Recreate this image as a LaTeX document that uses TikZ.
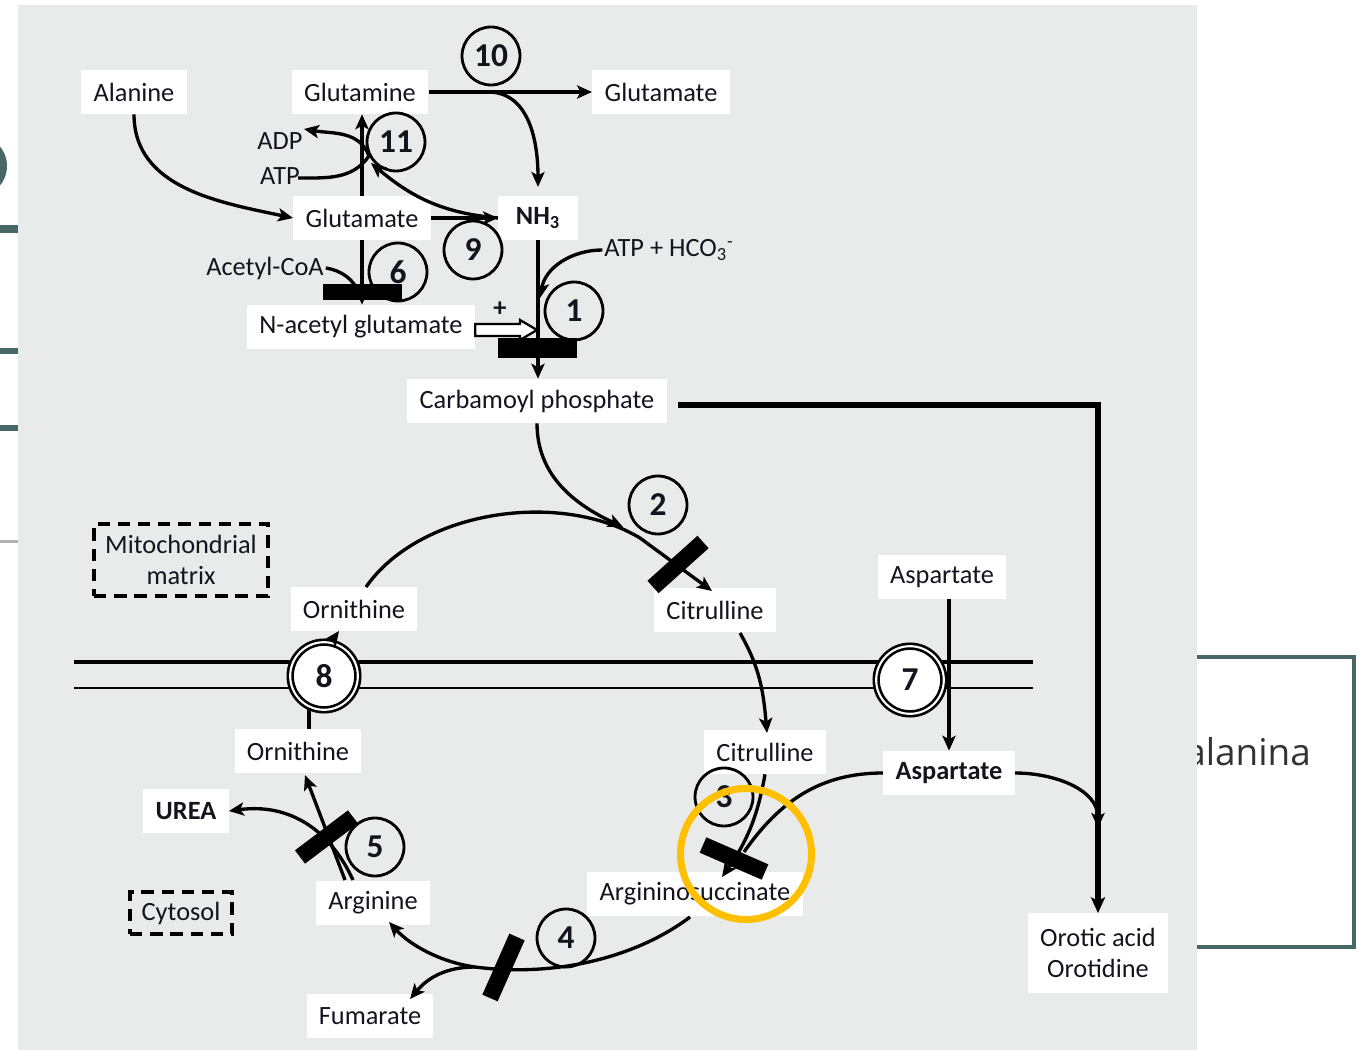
\documentclass[tikz,border=0pt]{standalone}
\usepackage{fontspec}
\setmainfont{Carlito}
\newfontfamily\slidefont{Open Sans}
\usetikzlibrary{arrows.meta,calc}
\definecolor{PanelClr}{rgb}{0.914,0.918,0.918}
\definecolor{SlideClr}{rgb}{0.278,0.408,0.400}
\definecolor{MarkClr}{rgb}{1,0.753,0}
\definecolor{InkClr}{rgb}{0.08,0.08,0.12}

\begin{document}
\begin{tikzpicture}[x=0.02cm,y=-0.02cm,
  lbl/.style={fill=white,inner xsep=7pt,inner ysep=0pt,minimum height=25pt,font=\fontsize{15}{18}\selectfont,text=InkClr},
  txt/.style={inner sep=1pt,font=\fontsize{15}{18}\selectfont,text=InkClr},
  zone/.style={draw,line width=2.1pt,dash pattern=on 7pt off 4.5pt,inner sep=0pt,align=center,font=\fontsize{15}{18}\selectfont,text=InkClr},
  enz/.style={circle,draw,line width=1.6pt,inner sep=0pt,minimum size=33pt,font=\fontsize{19}{22}\selectfont\bfseries,text=InkClr},
  gate/.style={circle,draw,line width=1.5pt,double=white,double distance=1.2pt,fill=white,inner sep=0pt,minimum size=38.5pt,font=\fontsize{19}{22}\selectfont\bfseries,text=InkClr},
  line/.style={line width=1.9pt},
  arr/.style={line width=1.9pt,-{Stealth[length=8.5pt,width=7.5pt,inset=2pt]}},
  heavy/.style={line width=2.9pt,-{Stealth[length=9pt,width=8pt,inset=2pt]}},
  bar/.style={line width=9.5pt}]
\useasboundingbox (0,0) rectangle (1366,1050);
\fill[white] (0,0) rectangle (1366,1050);

\fill[SlideClr] (-22,166) ellipse[x radius=29,y radius=30];
\fill[SlideClr] (0,225) rectangle (18,233);
\fill[SlideClr] (0,348) rectangle (18,354);
\fill[SlideClr] (0,425) rectangle (18,431);
\fill[gray!60] (0,540) rectangle (18,543);
\draw[SlideClr,line width=2.8pt] (1100,657) rectangle (1354,947);
\node[anchor=west,inner sep=0pt,font=\slidefont\fontsize{21}{25}\selectfont,text=black!80] (Sld) at (1185,752) {alanina};
\fill[PanelClr] (18,5) rectangle (1197,1050);

\draw[line width=2.3pt] (74,662) -- (1033,662);
\draw[line width=1.4pt] (74,688) -- (1033,688);

\node[lbl] (Ala) at (134,92) {Alanine};
\node[lbl] (Gln) at (360,92) {Glutamine};
\node[lbl] (GluR) at (661,92) {Glutamate};
\node[lbl] (GluM) at (362,218) {Glutamate};
\node[lbl,inner xsep=10pt] (NH) at (538,218) {\textbf{NH\textsubscript{3}}};
\node[txt] (ADP) at (280,141) {ADP};
\node[txt] (ATP) at (280,176) {ATP};
\node[txt] (HCO) at (669,250) {ATP + HCO\textsubscript{3}\textsuperscript{-}};
\node[txt] (AcCoA) at (265,268) {Acetyl-CoA};
\node[lbl] (NAG) at (361,327) {N-acetyl glutamate};
\node[lbl] (CP) at (537,401) {Carbamoyl phosphate};
\node[zone,minimum width=99pt,minimum height=41pt] (Mito) at (181,560) {Mitochondrial\\matrix};
\node[lbl] (OrnM) at (354,609) {Ornithine};
\node[lbl] (CitM) at (715,610) {Citrulline};
\node[lbl] (AspT) at (942,577) {Aspartate};
\node[lbl] (OrnC) at (298,751) {Ornithine};
\node[lbl] (CitC) at (765,752) {Citrulline};
\node[lbl] (AspB) at (949,773) {\textbf{Aspartate}};
\node[lbl] (Urea) at (186,811) {\textbf{UREA}};
\node[lbl] (Arg) at (373,903) {Arginine};
\node[lbl] (ASA) at (695,894) {Argininosuccinate};
\node[zone,minimum width=58pt,minimum height=24pt] (Cyto) at (181,913) {Cytosol};
\node[lbl] (Fum) at (370,1016) {Fumarate};
\node[lbl,align=center,minimum height=45pt] (Oro) at (1098,953) {Orotic acid\\Orotidine};

\node[enz] (E10) at (491,56) {10};
\node[enz] (E11) at (396,142) {11};
\node[enz] (E9) at (473,250) {9};
\node[enz] (E6) at (398,272) {6};
\node[enz] (E1) at (574,311) {1};
\node[enz] (E2) at (658,505) {2};
\node[enz] (E3) at (724,797) {3};
\node[enz] (E5) at (375,847) {5};
\node[enz] (E4) at (566,938) {4};
\node[gate] (E8) at (324,676) {8};
\node[gate] (E7) at (910,680) {7};

\coordinate (J10) at (488,92);
\coordinate (R11) at (369,156);
\coordinate (R11b) at (371,163);
\coordinate (D0) at (304,129);
\coordinate (D1) at (298,178);
\coordinate (J6) at (360,294);
\coordinate (J1) at (540,298);
\coordinate (C0) at (366,587);
\coordinate (C1) at (640,538);
\coordinate (C2) at (712,591);
\coordinate (J2) at (623,527);
\coordinate (T0) at (740,633);
\coordinate (T1) at (767,733);
\coordinate (J3) at (744,852);
\coordinate (A1) at (722,877);
\coordinate (A0) at (690,917);
\coordinate (J4) at (475,967);
\coordinate (G0) at (389,922);
\coordinate (F0) at (410,999);
\coordinate (U0) at (345,880);
\coordinate (U1) at (305,775);
\coordinate (U2) at (353,880);
\coordinate (O8) at (339,631);
\coordinate (P0) at (1098,828);

\draw[arr] (Gln) -- (GluR);
\draw[arr,shorten >=5pt] (J10) to[out=0,in=90] (NH.north);
\draw[arr] (Ala.south) to[out=-90,in=168] (GluM.west);
\draw[arr] (GluM.north) -- (GluM.north |- Gln.south);
\draw[arr] (D1) to[out=0,in=-125] (R11) to[out=110,in=-10] (D0);
\draw[arr] (NH.west) to[out=175,in=-40] (R11b);
\draw[arr] (GluM.east) -- (NH.west);
\draw[arr] (GluM.south) -- (GluM.south |- NAG.north);
\draw[line] (AcCoA.east) to[out=-10,in=115] (J6);
\draw[arr] (NH.south) -- (NH.south |- CP.north);
\draw[arr] (HCO.west) to[out=180,in=80] (J1);
\draw[line width=1.3pt,fill=white] (NAG.east |- 0,324) -- (520,324) -- (520,320) -- (537,330) -- (520,340) -- (520,336) -- (NAG.east |- 0,336) -- cycle;
\node[txt,font=\fontsize{15}{18}\selectfont\bfseries] (Plus) at (500,309) {+};

\draw[arr] (CP.south) to[out=-90,in=155] (J2);
\draw[arr] (C0) .. controls (420,510) and (560,490) .. (C1) -- (C2);
\draw[arr] (T0) to[out=-60,in=95] (T1);
\draw[arr] (AspT.south -| AspB.north) -- (AspB.north);
\draw[arr] (CitC.south) to[out=-100,in=55] (A1);
\draw[line] (AspB.west) to[out=180,in=55] (J3);
\draw[arr] (A0) .. controls (640,955) and (560,978) .. (J4) .. controls (440,962) and (410,945) .. (G0);
\draw[arr] (J4) to[out=180,in=50] (F0);
\draw[arr] (U0) -- (U1);
\draw[arr] (U2) .. controls (330,830) and (290,803) .. (Urea.east);
\draw[line] (OrnC.north -| E8.-115) -- (E8.-115);
\draw[arr] (E8.78) -- (O8);
\draw[heavy] ($(CP.east)+(11,4)$) -| (Oro.north);
\draw[arr] (AspB.east) to[out=0,in=90] (P0);

\fill (323,284) rectangle (402,300);
\fill (498,338) rectangle (577,358);
\draw[bar] (653,587) -- (703,542);
\draw[bar] (703,845) -- (765,872);
\draw[bar] (300,857) -- (353,817);
\draw[bar] (490,998) -- (517,937);

\draw[MarkClr,line width=4pt] (746,854) circle[radius=65.5];
\end{tikzpicture}
\end{document}
